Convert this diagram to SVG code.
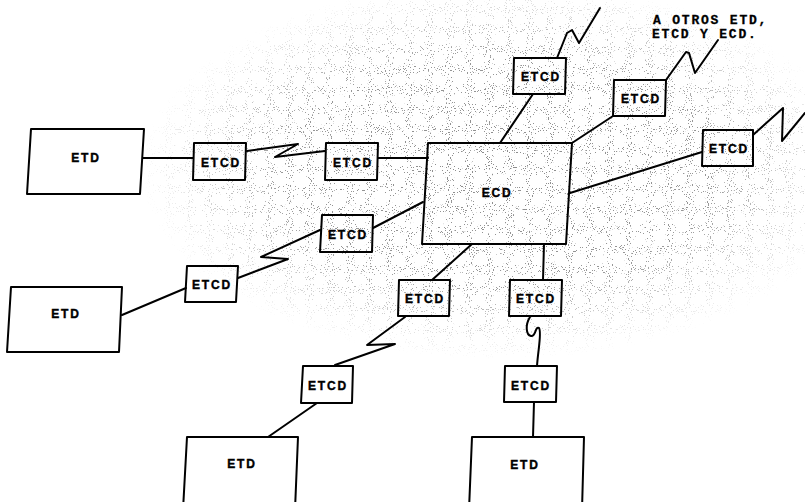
<svg xmlns="http://www.w3.org/2000/svg" width="805" height="502" viewBox="0 0 805 502">
<defs>
<style>
.box{fill:none;stroke:#000;stroke-width:2;stroke-linejoin:round}
.ln{fill:none;stroke:#000;stroke-width:2;stroke-linejoin:round;stroke-linecap:round}
.lbl{font-family:"Liberation Sans",Arial,sans-serif;font-weight:bold;font-size:12px;letter-spacing:1.8px;fill:#000;text-anchor:middle;stroke:#000;stroke-width:0.4}
.note{font-family:"Liberation Mono","Courier New",monospace;font-weight:bold;font-size:13px;letter-spacing:1.8px;fill:#000;stroke:#000;stroke-width:0.3}
</style>
<filter id="speck" x="0" y="0" width="100%" height="100%">
<feTurbulence type="fractalNoise" baseFrequency="0.95" numOctaves="1" seed="3" result="n"/>
<feColorMatrix in="n" type="matrix" values="0 0 0 0 0  0 0 0 0 0  0 0 0 0 0  30 0 0 0 -19.5" result="d"/>
<feComposite in="d" in2="SourceGraphic" operator="in"/>
</filter>
<radialGradient id="fade" cx="0.5" cy="0.5" r="0.5">
<stop offset="0" stop-color="#000" stop-opacity="1"/>
<stop offset="0.6" stop-color="#000" stop-opacity="0.9"/>
<stop offset="1" stop-color="#000" stop-opacity="0"/>
</radialGradient>
</defs>
<rect width="805" height="502" fill="#fff"/>
<ellipse cx="500" cy="170" rx="360" ry="190" fill="url(#fade)" filter="url(#speck)" opacity="0.45"/>

<g id="connectors">
<path class="ln" d="M143,158 L193,158"/>
<path class="ln" d="M247,151 L298,144 L275,157 L325,151"/>
<path class="ln" d="M378,158 L428,158"/>
<path class="ln" d="M500,143 L533,94"/>
<path class="ln" d="M557,58 L567,33 L572,30 L579,43 L600,8"/>
<path class="ln" d="M572,143 L613,116"/>
<path class="ln" d="M666,80 L686,52 L689,53 L695,73 L718,40"/>
<path class="ln" d="M570,193 L702,152"/>
<path class="ln" d="M753,135 L783,108 L782,141 L805,113"/>
<path class="ln" d="M423,202 L373,228"/>
<path class="ln" d="M238,278 L288,259 L261,257 L320,230"/>
<path class="ln" d="M122,315 L186,288"/>
<path class="ln" d="M472,244 L432,280"/>
<path class="ln" d="M405,317 L367,345 L395,344 L335,365"/>
<path class="ln" d="M317,403 L268,437"/>
<path class="ln" d="M544,244 L543,280"/>
<path class="ln" d="M530,317 C525,325 526,335 531,336 C536,337 535,326 539,328 C542,332 538,350 537,366"/>
<path class="ln" d="M534,402 L533,437"/>
</g>

<g id="etd1"><polygon class="box" points="31,129 144,129 140,194 27,194"/><text class="lbl" x="86" y="162">ETD</text></g>
<g id="etcd1"><polygon class="box" points="194,143 246,143 245,180 193,180"/><text class="lbl" x="221" y="167">ETCD</text></g>
<g id="etcd2"><polygon class="box" points="326,143 378,143 377,180 325,180"/><text class="lbl" x="353" y="167">ETCD</text></g>
<g id="ecd"><polygon class="box" points="428,143 572,143 566,244 422,244"/><text class="lbl" x="497" y="197">ECD</text></g>
<g id="etcd-t1"><polygon class="box" points="514,58 566,58 565,94 513,94"/><text class="lbl" x="541" y="81">ETCD</text></g>
<g id="etcd-t2"><polygon class="box" points="614,80 666,80 665,116 613,116"/><text class="lbl" x="641" y="103">ETCD</text></g>
<g id="etcd-t3"><polygon class="box" points="703,130 753,130 753,166 702,166"/><text class="lbl" x="729" y="153">ETCD</text></g>
<g id="etcd-l1"><polygon class="box" points="322,215 373,215 372,252 320,252"/><text class="lbl" x="348" y="239">ETCD</text></g>
<g id="etcd-l2"><polygon class="box" points="187,266 238,266 236,302 185,302"/><text class="lbl" x="212" y="289">ETCD</text></g>
<g id="etd2"><polygon class="box" points="11,287 122,287 119,352 7,352"/><text class="lbl" x="66" y="318">ETD</text></g>
<g id="etcd-m"><polygon class="box" points="399,280 450,280 449,316 398,316"/><text class="lbl" x="425" y="303">ETCD</text></g>
<g id="etcd-b1"><polygon class="box" points="303,366 353,366 352,403 301,403"/><text class="lbl" x="328" y="390">ETCD</text></g>
<g id="etd3"><polygon class="box" points="187,437 298,437 295,510 183,510"/><text class="lbl" x="242" y="468">ETD</text></g>
<g id="etcd-r1"><polygon class="box" points="510,280 562,280 561,316 509,316"/><text class="lbl" x="536" y="303">ETCD</text></g>
<g id="etcd-r2"><polygon class="box" points="505,366 557,366 556,402 504,402"/><text class="lbl" x="531" y="390">ETCD</text></g>
<g id="etd4"><polygon class="box" points="472,437 584,437 582,510 469,510"/><text class="lbl" x="525" y="469">ETD</text></g>

<g id="note">
<text class="note" x="653" y="24">A OTROS ETD,</text>
<text class="note" x="652" y="38">ETCD Y ECD.</text>
</g>
</svg>
